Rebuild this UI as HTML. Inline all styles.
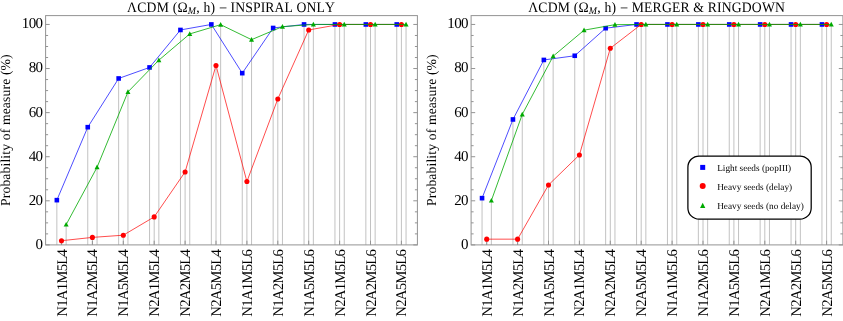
<!DOCTYPE html>
<html>
<head>
<meta charset="utf-8">
<title>LCDM probability of measure</title>
<style>
html,body{margin:0;padding:0;background:#fff;}
body{width:843px;height:321px;overflow:hidden;}
svg{display:block;will-change:transform;}
svg text{font-family:"Liberation Serif",serif;fill:#000;text-rendering:geometricPrecision;font-kerning:none;font-variant-ligatures:none;}
</style>
</head>
<body>
<svg width="843" height="321" viewBox="0 0 843 321">
<rect x="0" y="0" width="843" height="321" fill="#fff"/>
<g transform="translate(0,0)">
<path d="M56.85 200.15V244.9M87.75 127.18V244.9M118.65 78.46V244.9M149.55 67.44V244.9M180.45 29.96V244.9M211.35 24.45V244.9M242.25 73.17V244.9M273.15 27.98V244.9M304.05 24.45V244.9M334.95 24.45V244.9M365.85 24.45V244.9M396.75 24.45V244.9M61.5 240.71V244.9M92.4 237.4V244.9M123.3 235.2V244.9M154.2 216.9V244.9M185.1 171.93V244.9M216 65.45V244.9M246.9 181.52V244.9M277.8 98.96V244.9M308.7 29.96V244.9M339.6 24.45V244.9M370.5 24.45V244.9M401.4 24.45V244.9M66.15 224.62V244.9M97.05 167.3V244.9M127.95 91.91V244.9M158.85 60.16V244.9M189.75 33.93V244.9M220.65 24.67V244.9M251.55 39.66V244.9M282.45 26.65V244.9M313.35 24.45V244.9M344.25 24.45V244.9M375.15 24.45V244.9M406.05 24.45V244.9" stroke="#c2c2c2" stroke-width="1" fill="none"/>
<rect x="45.6" y="15.6" width="371.8" height="229.3" fill="none" stroke="#939393" stroke-width="1"/>
<path d="M45.6 244.9h4.1M417.4 244.9h-4.1M45.6 233.88h2.5M417.4 233.88h-2.5M45.6 222.86h2.5M417.4 222.86h-2.5M45.6 211.83h2.5M417.4 211.83h-2.5M45.6 200.81h4.1M417.4 200.81h-4.1M45.6 189.79h2.5M417.4 189.79h-2.5M45.6 178.77h2.5M417.4 178.77h-2.5M45.6 167.74h2.5M417.4 167.74h-2.5M45.6 156.72h4.1M417.4 156.72h-4.1M45.6 145.7h2.5M417.4 145.7h-2.5M45.6 134.68h2.5M417.4 134.68h-2.5M45.6 123.65h2.5M417.4 123.65h-2.5M45.6 112.63h4.1M417.4 112.63h-4.1M45.6 101.61h2.5M417.4 101.61h-2.5M45.6 90.59h2.5M417.4 90.59h-2.5M45.6 79.56h2.5M417.4 79.56h-2.5M45.6 68.54h4.1M417.4 68.54h-4.1M45.6 57.52h2.5M417.4 57.52h-2.5M45.6 46.5h2.5M417.4 46.5h-2.5M45.6 35.47h2.5M417.4 35.47h-2.5M45.6 24.45h4.1M417.4 24.45h-4.1M61.5 244.9v-4.2M92.4 244.9v-4.2M123.3 244.9v-4.2M154.2 244.9v-4.2M185.1 244.9v-4.2M216 244.9v-4.2M246.9 244.9v-4.2M277.8 244.9v-4.2M308.7 244.9v-4.2M339.6 244.9v-4.2M370.5 244.9v-4.2M401.4 244.9v-4.2" stroke="#939393" stroke-width="1" fill="none"/>
<polyline points="56.85,200.15 87.75,127.18 118.65,78.46 149.55,67.44 180.45,29.96 211.35,24.45 242.25,73.17 273.15,27.98 304.05,24.45 334.95,24.45 365.85,24.45 396.75,24.45" fill="none" stroke="#0000ff" stroke-width="0.7" stroke-linejoin="round"/>
<g fill="#0000ff"><rect x="54.55" y="197.85" width="4.6" height="4.6"/><rect x="85.45" y="124.88" width="4.6" height="4.6"/><rect x="116.35" y="76.16" width="4.6" height="4.6"/><rect x="147.25" y="65.14" width="4.6" height="4.6"/><rect x="178.15" y="27.66" width="4.6" height="4.6"/><rect x="209.05" y="22.15" width="4.6" height="4.6"/><rect x="239.95" y="70.87" width="4.6" height="4.6"/><rect x="270.85" y="25.68" width="4.6" height="4.6"/><rect x="301.75" y="22.15" width="4.6" height="4.6"/><rect x="332.65" y="22.15" width="4.6" height="4.6"/><rect x="363.55" y="22.15" width="4.6" height="4.6"/><rect x="394.45" y="22.15" width="4.6" height="4.6"/></g>
<polyline points="61.5,240.71 92.4,237.4 123.3,235.2 154.2,216.9 185.1,171.93 216,65.45 246.9,181.52 277.8,98.96 308.7,29.96 339.6,24.45 370.5,24.45 401.4,24.45" fill="none" stroke="#ff0000" stroke-width="0.7" stroke-linejoin="round"/>
<g fill="#ff0000"><circle cx="61.5" cy="240.71" r="2.55"/><circle cx="92.4" cy="237.4" r="2.55"/><circle cx="123.3" cy="235.2" r="2.55"/><circle cx="154.2" cy="216.9" r="2.55"/><circle cx="185.1" cy="171.93" r="2.55"/><circle cx="216" cy="65.45" r="2.55"/><circle cx="246.9" cy="181.52" r="2.55"/><circle cx="277.8" cy="98.96" r="2.55"/><circle cx="308.7" cy="29.96" r="2.55"/><circle cx="339.6" cy="24.45" r="2.55"/><circle cx="370.5" cy="24.45" r="2.55"/><circle cx="401.4" cy="24.45" r="2.55"/></g>
<polyline points="66.15,224.62 97.05,167.3 127.95,91.91 158.85,60.16 189.75,33.93 220.65,24.67 251.55,39.66 282.45,26.65 313.35,24.45 344.25,24.45 375.15,24.45 406.05,24.45" fill="none" stroke="#00aa00" stroke-width="0.8" stroke-linejoin="round"/>
<g fill="#00aa00"><path d="M66.15 221.92l2.5 4.7h-5z"/><path d="M97.05 164.6l2.5 4.7h-5z"/><path d="M127.95 89.21l2.5 4.7h-5z"/><path d="M158.85 57.46l2.5 4.7h-5z"/><path d="M189.75 31.23l2.5 4.7h-5z"/><path d="M220.65 21.97l2.5 4.7h-5z"/><path d="M251.55 36.96l2.5 4.7h-5z"/><path d="M282.45 23.95l2.5 4.7h-5z"/><path d="M313.35 21.75l2.5 4.7h-5z"/><path d="M344.25 21.75l2.5 4.7h-5z"/><path d="M375.15 21.75l2.5 4.7h-5z"/><path d="M406.05 21.75l2.5 4.7h-5z"/></g>
<g font-size="15" letter-spacing="-0.62" text-anchor="end">
<text x="42.5" y="248.85">0</text>
<text x="42.5" y="204.76">20</text>
<text x="42.5" y="160.67">40</text>
<text x="42.5" y="116.58">60</text>
<text x="42.5" y="72.49">80</text>
<text x="42.5" y="28.4">100</text>
</g>
<text font-size="13.7" text-anchor="middle" letter-spacing="0.12" transform="translate(10.4,130.1) rotate(-90)">Probability of measure (%)</text>
<g font-size="14.8" letter-spacing="-0.8" text-anchor="end">
<text transform="translate(66.5,249.9) rotate(-90)">N1A1M5L4</text>
<text transform="translate(97.4,249.9) rotate(-90)">N1A2M5L4</text>
<text transform="translate(128.3,249.9) rotate(-90)">N1A5M5L4</text>
<text transform="translate(159.2,249.9) rotate(-90)">N2A1M5L4</text>
<text transform="translate(190.1,249.9) rotate(-90)">N2A2M5L4</text>
<text transform="translate(221,249.9) rotate(-90)">N2A5M5L4</text>
<text transform="translate(251.9,249.9) rotate(-90)">N1A1M5L6</text>
<text transform="translate(282.8,249.9) rotate(-90)">N1A2M5L6</text>
<text transform="translate(313.7,249.9) rotate(-90)">N1A5M5L6</text>
<text transform="translate(344.6,249.9) rotate(-90)">N2A1M5L6</text>
<text transform="translate(375.5,249.9) rotate(-90)">N2A2M5L6</text>
<text transform="translate(406.4,249.9) rotate(-90)">N2A5M5L6</text>
</g>
<text font-size="13.7" transform="translate(127.1,11.7) scale(1,1.055)"><tspan letter-spacing="0.2">ΛCDM (Ω<tspan font-size="9.9" font-style="italic" dy="2.2">M</tspan><tspan dy="-2.2">, h) </tspan></tspan><tspan font-size="14.5" dy="1">−</tspan><tspan dy="-1" letter-spacing="0.1"> INSPIRAL ONLY</tspan></text>
</g>
<g transform="translate(425.5,0)">
<path d="M56.55 198.16V244.9M87.45 119.46V244.9M118.35 59.94V244.9M149.25 55.75V244.9M180.15 28.2V244.9M211.05 24.45V244.9M241.95 24.45V244.9M272.85 24.45V244.9M303.75 24.45V244.9M334.65 24.45V244.9M365.55 24.45V244.9M396.45 24.45V244.9M61.2 239.17V244.9M92.1 239.17V244.9M123 184.94V244.9M153.9 154.96V244.9M184.8 48.26V244.9M215.7 24.45V244.9M246.6 24.45V244.9M277.5 24.45V244.9M308.4 24.45V244.9M339.3 24.45V244.9M370.2 24.45V244.9M401.1 24.45V244.9M65.85 200.59V244.9M96.75 114.39V244.9M127.65 56.19V244.9M158.55 30.18V244.9M189.45 24.67V244.9M220.35 24.45V244.9M251.25 24.45V244.9M282.15 24.45V244.9M313.05 24.45V244.9M343.95 24.45V244.9M374.85 24.45V244.9M405.75 24.45V244.9" stroke="#c2c2c2" stroke-width="1" fill="none"/>
<rect x="45.6" y="15.6" width="371.8" height="229.3" fill="none" stroke="#939393" stroke-width="1"/>
<path d="M45.6 244.9h4.1M417.4 244.9h-4.1M45.6 233.88h2.5M417.4 233.88h-2.5M45.6 222.86h2.5M417.4 222.86h-2.5M45.6 211.83h2.5M417.4 211.83h-2.5M45.6 200.81h4.1M417.4 200.81h-4.1M45.6 189.79h2.5M417.4 189.79h-2.5M45.6 178.77h2.5M417.4 178.77h-2.5M45.6 167.74h2.5M417.4 167.74h-2.5M45.6 156.72h4.1M417.4 156.72h-4.1M45.6 145.7h2.5M417.4 145.7h-2.5M45.6 134.68h2.5M417.4 134.68h-2.5M45.6 123.65h2.5M417.4 123.65h-2.5M45.6 112.63h4.1M417.4 112.63h-4.1M45.6 101.61h2.5M417.4 101.61h-2.5M45.6 90.59h2.5M417.4 90.59h-2.5M45.6 79.56h2.5M417.4 79.56h-2.5M45.6 68.54h4.1M417.4 68.54h-4.1M45.6 57.52h2.5M417.4 57.52h-2.5M45.6 46.5h2.5M417.4 46.5h-2.5M45.6 35.47h2.5M417.4 35.47h-2.5M45.6 24.45h4.1M417.4 24.45h-4.1M61.2 244.9v-4.2M92.1 244.9v-4.2M123 244.9v-4.2M153.9 244.9v-4.2M184.8 244.9v-4.2M215.7 244.9v-4.2M246.6 244.9v-4.2M277.5 244.9v-4.2M308.4 244.9v-4.2M339.3 244.9v-4.2M370.2 244.9v-4.2M401.1 244.9v-4.2" stroke="#939393" stroke-width="1" fill="none"/>
<polyline points="56.55,198.16 87.45,119.46 118.35,59.94 149.25,55.75 180.15,28.2 211.05,24.45 241.95,24.45 272.85,24.45 303.75,24.45 334.65,24.45 365.55,24.45 396.45,24.45" fill="none" stroke="#0000ff" stroke-width="0.7" stroke-linejoin="round"/>
<g fill="#0000ff"><rect x="54.25" y="195.86" width="4.6" height="4.6"/><rect x="85.15" y="117.16" width="4.6" height="4.6"/><rect x="116.05" y="57.64" width="4.6" height="4.6"/><rect x="146.95" y="53.45" width="4.6" height="4.6"/><rect x="177.85" y="25.9" width="4.6" height="4.6"/><rect x="208.75" y="22.15" width="4.6" height="4.6"/><rect x="239.65" y="22.15" width="4.6" height="4.6"/><rect x="270.55" y="22.15" width="4.6" height="4.6"/><rect x="301.45" y="22.15" width="4.6" height="4.6"/><rect x="332.35" y="22.15" width="4.6" height="4.6"/><rect x="363.25" y="22.15" width="4.6" height="4.6"/><rect x="394.15" y="22.15" width="4.6" height="4.6"/></g>
<polyline points="61.2,239.17 92.1,239.17 123,184.94 153.9,154.96 184.8,48.26 215.7,24.45 246.6,24.45 277.5,24.45 308.4,24.45 339.3,24.45 370.2,24.45 401.1,24.45" fill="none" stroke="#ff0000" stroke-width="0.7" stroke-linejoin="round"/>
<g fill="#ff0000"><circle cx="61.2" cy="239.17" r="2.55"/><circle cx="92.1" cy="239.17" r="2.55"/><circle cx="123" cy="184.94" r="2.55"/><circle cx="153.9" cy="154.96" r="2.55"/><circle cx="184.8" cy="48.26" r="2.55"/><circle cx="215.7" cy="24.45" r="2.55"/><circle cx="246.6" cy="24.45" r="2.55"/><circle cx="277.5" cy="24.45" r="2.55"/><circle cx="308.4" cy="24.45" r="2.55"/><circle cx="339.3" cy="24.45" r="2.55"/><circle cx="370.2" cy="24.45" r="2.55"/><circle cx="401.1" cy="24.45" r="2.55"/></g>
<polyline points="65.85,200.59 96.75,114.39 127.65,56.19 158.55,30.18 189.45,24.67 220.35,24.45 251.25,24.45 282.15,24.45 313.05,24.45 343.95,24.45 374.85,24.45 405.75,24.45" fill="none" stroke="#00aa00" stroke-width="0.8" stroke-linejoin="round"/>
<g fill="#00aa00"><path d="M65.85 197.89l2.5 4.7h-5z"/><path d="M96.75 111.69l2.5 4.7h-5z"/><path d="M127.65 53.49l2.5 4.7h-5z"/><path d="M158.55 27.48l2.5 4.7h-5z"/><path d="M189.45 21.97l2.5 4.7h-5z"/><path d="M220.35 21.75l2.5 4.7h-5z"/><path d="M251.25 21.75l2.5 4.7h-5z"/><path d="M282.15 21.75l2.5 4.7h-5z"/><path d="M313.05 21.75l2.5 4.7h-5z"/><path d="M343.95 21.75l2.5 4.7h-5z"/><path d="M374.85 21.75l2.5 4.7h-5z"/><path d="M405.75 21.75l2.5 4.7h-5z"/></g>
<g font-size="15" letter-spacing="-0.62" text-anchor="end">
<text x="42.5" y="248.85">0</text>
<text x="42.5" y="204.76">20</text>
<text x="42.5" y="160.67">40</text>
<text x="42.5" y="116.58">60</text>
<text x="42.5" y="72.49">80</text>
<text x="42.5" y="28.4">100</text>
</g>
<text font-size="13.7" text-anchor="middle" letter-spacing="0.12" transform="translate(10.4,130.1) rotate(-90)">Probability of measure (%)</text>
<g font-size="14.8" letter-spacing="-0.8" text-anchor="end">
<text transform="translate(66.2,249.9) rotate(-90)">N1A1M5L4</text>
<text transform="translate(97.1,249.9) rotate(-90)">N1A2M5L4</text>
<text transform="translate(128,249.9) rotate(-90)">N1A5M5L4</text>
<text transform="translate(158.9,249.9) rotate(-90)">N2A1M5L4</text>
<text transform="translate(189.8,249.9) rotate(-90)">N2A2M5L4</text>
<text transform="translate(220.7,249.9) rotate(-90)">N2A5M5L4</text>
<text transform="translate(251.6,249.9) rotate(-90)">N1A1M5L6</text>
<text transform="translate(282.5,249.9) rotate(-90)">N1A2M5L6</text>
<text transform="translate(313.4,249.9) rotate(-90)">N1A5M5L6</text>
<text transform="translate(344.3,249.9) rotate(-90)">N2A1M5L6</text>
<text transform="translate(375.2,249.9) rotate(-90)">N2A2M5L6</text>
<text transform="translate(406.1,249.9) rotate(-90)">N2A5M5L6</text>
</g>
<text font-size="13.7" transform="translate(102.7,11.7) scale(1,1.055)"><tspan letter-spacing="0.2">ΛCDM (Ω<tspan font-size="9.9" font-style="italic" dy="2.2">M</tspan><tspan dy="-2.2">, h) </tspan></tspan><tspan font-size="14.5" dy="1">−</tspan><tspan dy="-1" letter-spacing="0.16"> MERGER &amp; RINGDOWN</tspan></text>
</g>
<rect x="687.9" y="156.0" width="123.3" height="63.2" rx="11.3" ry="11.3" fill="#fff" stroke="#000" stroke-width="1.25"/>
<rect x="700.2" y="164.9" width="5" height="5" fill="#0000ff"/>
<circle cx="702.7" cy="186" r="3" fill="#ff0000"/>
<path d="M702.7 202.8l2.6 5.3h-5.2z" fill="#00aa00"/>
<g font-size="9.25">
<text x="717.2" y="170.8">Light seeds (popIII)</text>
<text x="717.2" y="190">Heavy seeds (delay)</text>
<text x="717.2" y="209.2">Heavy seeds (no delay)</text>
</g>
</svg>
</body>
</html>
